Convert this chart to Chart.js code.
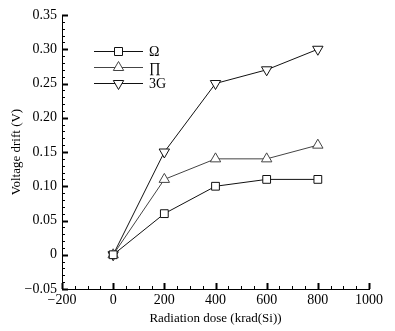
<!DOCTYPE html>
<html>
<head>
<meta charset="utf-8">
<script src="https://cdn.jsdelivr.net/npm/chart.js"></script>
<style>
  body { margin: 0; background: #fff; }
  canvas { display: block; }
</style>
</head>
<body>
<canvas id="driftChart" width="395" height="331"></canvas>
<script>
const doses = [0, 200, 400, 600, 800];
const omegaDrift = [0, 0.06, 0.10, 0.11, 0.11];
const piDrift = [0, 0.11, 0.14, 0.14, 0.16];
const g3Drift = [0, 0.15, 0.25, 0.27, 0.30];

const serif = "'Liberation Serif', 'Times New Roman', serif";

function toPoints(values) {
    return doses.map((d, i) => ({ x: d, y: values[i] }));
}

function minus(str) {
    return str.replace('-', '\u2212');
}

function makeSeries(label, values, style, rotation, color) {
    return {
        label: label,
        data: toPoints(values),
        borderColor: color,
        borderWidth: 1,
        pointStyle: style,
        pointRotation: rotation,
        pointRadius: style === 'rect' ? 5.5 : 6,
        pointBackgroundColor: '#fff',
        pointBorderColor: color,
        pointBorderWidth: 1,
        fill: false,
        tension: 0
    };
}

// inward major/minor tick marks on both axes
const tickMarks = {
    id: 'tickMarks',
    afterDraw(chart) {
        const ctx = chart.ctx;
        const xs = chart.scales.x;
        const ys = chart.scales.y;
        const area = chart.chartArea;
        ctx.save();
        ctx.strokeStyle = '#000';
        for (let v = -200; v <= 1000; v += 50) {
            const major = v % 200 === 0;
            const px = Math.round(xs.getPixelForValue(v)) + 0.5;
            ctx.lineWidth = major ? 2 : 1;
            ctx.beginPath();
            ctx.moveTo(px, area.bottom);
            ctx.lineTo(px, area.bottom - (major ? 6 : 3));
            ctx.stroke();
        }
        for (let i = -5; i <= 35; i++) {
            const major = i % 5 === 0;
            const py = Math.round(ys.getPixelForValue(i / 100)) + 0.5;
            ctx.lineWidth = major ? 2 : 1;
            ctx.beginPath();
            ctx.moveTo(area.left, py);
            ctx.lineTo(area.left + (major ? 6 : 3), py);
            ctx.stroke();
        }
        ctx.restore();
    }
};

function drawMarker(ctx, style, x, y) {
    ctx.beginPath();
    if (style === 'rect') {
        ctx.rect(x - 4, y - 4, 8, 8);
    } else if (style === 'up') {
        ctx.moveTo(x, y - 6);
        ctx.lineTo(x + 5.2, y + 3);
        ctx.lineTo(x - 5.2, y + 3);
        ctx.closePath();
    } else {
        ctx.moveTo(x, y + 6);
        ctx.lineTo(x + 5.2, y - 3);
        ctx.lineTo(x - 5.2, y - 3);
        ctx.closePath();
    }
    ctx.fillStyle = '#fff';
    ctx.fill();
    ctx.stroke();
}

// legend box in the upper left of the plot
const lineLegend = {
    id: 'lineLegend',
    afterDraw(chart) {
        const ctx = chart.ctx;
        const shapes = ['rect', 'up', 'down'];
        ctx.save();
        ctx.font = '14px ' + serif;
        ctx.textBaseline = 'middle';
        chart.data.datasets.forEach((ds, i) => {
            const y = 51 + i * 16;
            ctx.strokeStyle = ds.borderColor;
            ctx.lineWidth = 1;
            ctx.beginPath();
            ctx.moveTo(94, y + 0.5);
            ctx.lineTo(143, y + 0.5);
            ctx.stroke();
            drawMarker(ctx, shapes[i], 118.5, y + 0.5);
            ctx.fillStyle = '#000';
            ctx.fillText(ds.label, 149, y + 1);
        });
        ctx.restore();
    }
};

new Chart(document.getElementById('driftChart'), {
    type: 'line',
    data: {
        datasets: [
            makeSeries('\u03A9', omegaDrift, 'rect', 0, '#111'),
            makeSeries('\u220F', piDrift, 'triangle', 0, '#444'),
            makeSeries('3G', g3Drift, 'triangle', 180, '#111')
        ]
    },
    options: {
        responsive: false,
        animation: false,
        layout: { padding: { top: 15, right: 26, left: 0, bottom: 0 } },
        plugins: {
            legend: { display: false },
            tooltip: { enabled: false }
        },
        scales: {
            x: {
                type: 'linear',
                min: -200,
                max: 1000,
                afterFit(scale) { scale.height = 42; },
                ticks: {
                    stepSize: 200,
                    padding: 3,
                    color: '#000',
                    font: { family: serif, size: 14 },
                    callback: v => minus(String(v))
                },
                grid: { display: false, drawTicks: false },
                border: { display: true, color: '#000', width: 1 },
                title: {
                    display: true,
                    text: 'Radiation dose (krad(Si))',
                    color: '#000',
                    font: { family: serif, size: 13 },
                    padding: { top: 0, bottom: 5 }
                }
            },
            y: {
                type: 'linear',
                min: -0.05,
                max: 0.35,
                afterFit(scale) { scale.width = 62; },
                ticks: {
                    stepSize: 0.05,
                    padding: 5,
                    color: '#000',
                    font: { family: serif, size: 14 },
                    callback: v => Math.abs(v) < 1e-9 ? '0' : minus(v.toFixed(2))
                },
                grid: { display: false, drawTicks: false },
                border: { display: true, color: '#000', width: 1 },
                title: {
                    display: true,
                    text: 'Voltage drift (V)',
                    color: '#000',
                    font: { family: serif, size: 13 },
                    padding: { top: 9, bottom: 0 }
                }
            }
        }
    },
    plugins: [tickMarks, lineLegend]
});
</script>
</body>
</html>
